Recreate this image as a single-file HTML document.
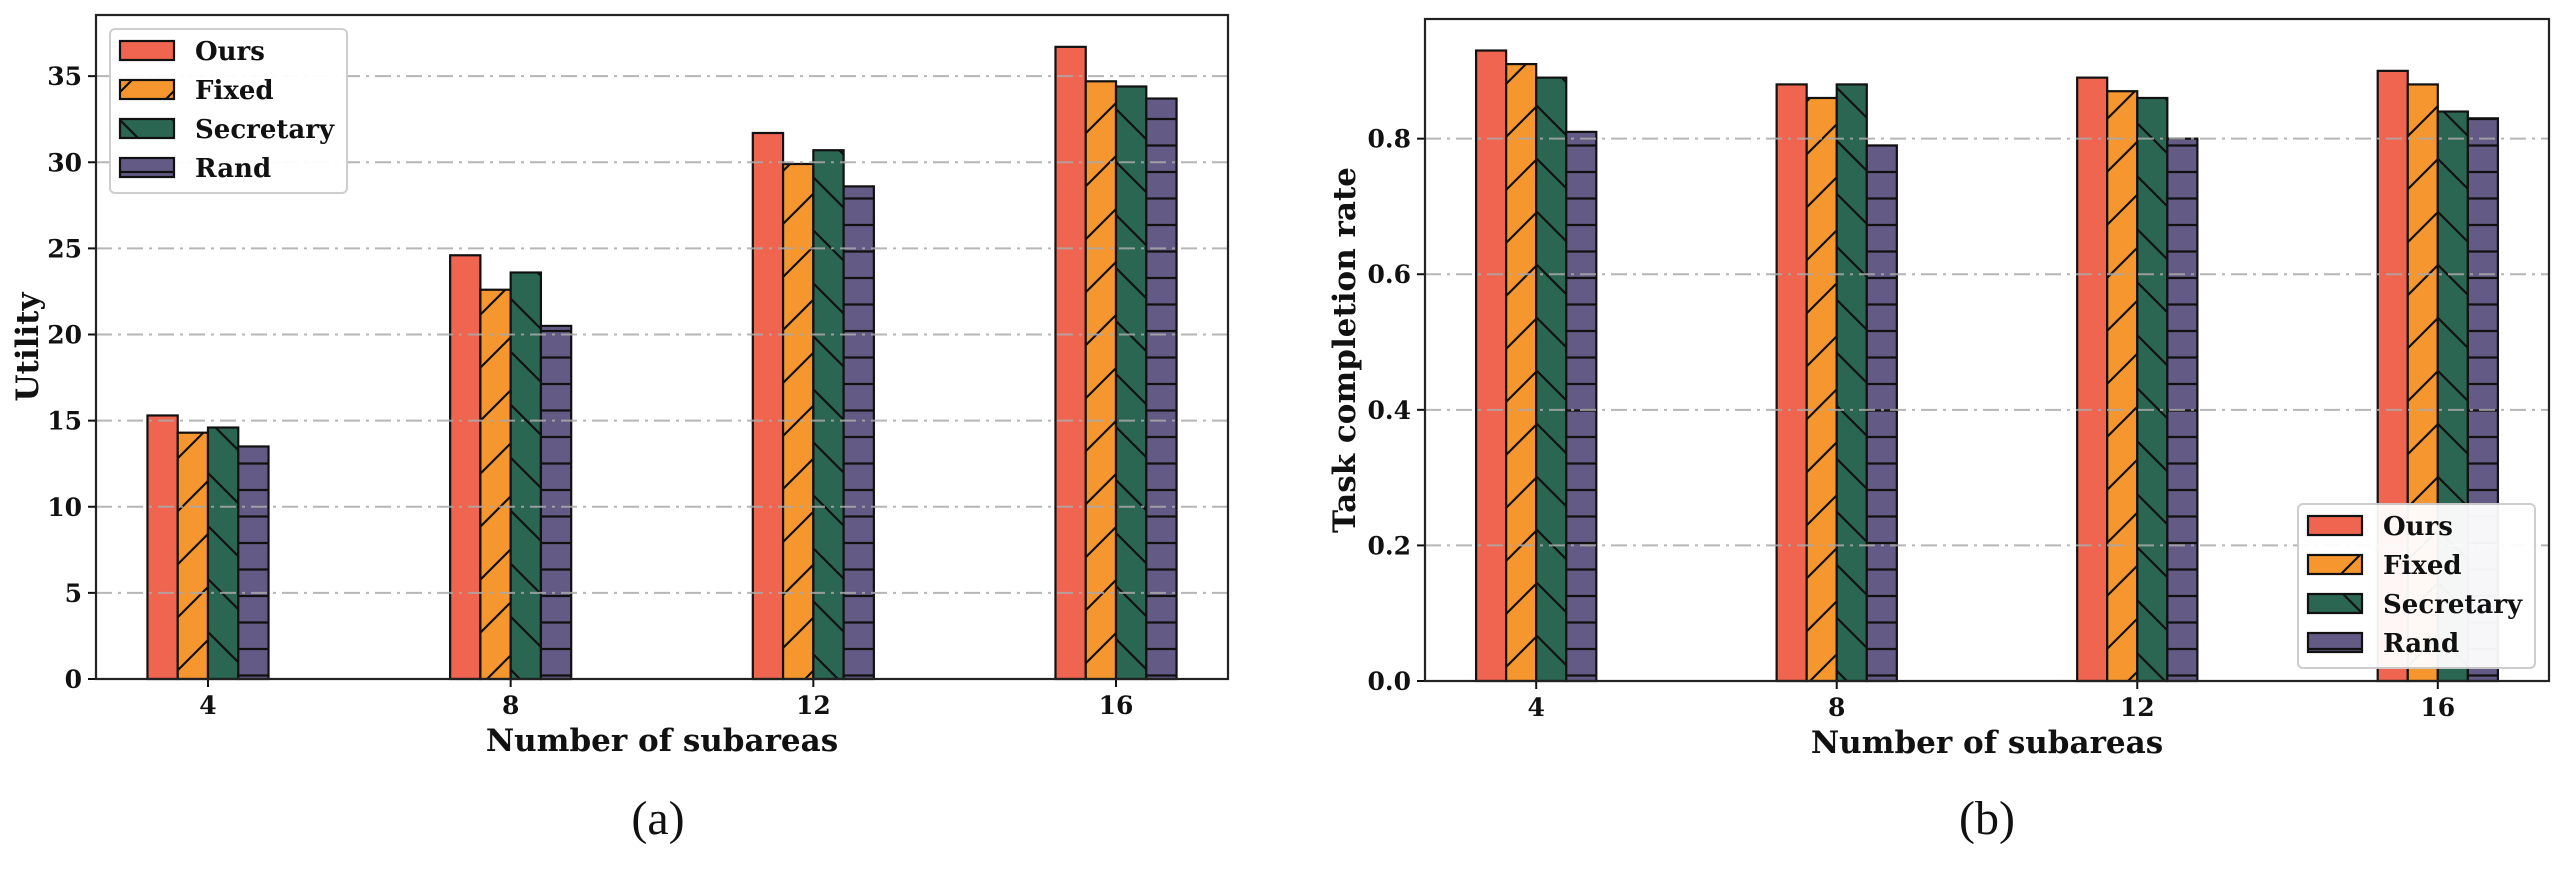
<!DOCTYPE html>
<html><head><meta charset="utf-8"><style>
html,body{margin:0;padding:0;background:#fff;}
svg{display:block;}
text{font-family:"DejaVu Serif",serif;font-weight:bold;fill:#111;}
</style></head><body>
<svg id="fig" width="2564" height="871" viewBox="0 0 2564 871" xmlns="http://www.w3.org/2000/svg">
<defs>
<pattern id="h-fixed" patternUnits="userSpaceOnUse" width="53" height="53"><rect width="53" height="53" fill="#F5962F"/><path d="M-5,58 L58,-5 M-10,10 L10,-10 M43,63 L63,43" stroke="#111" stroke-width="2.2"/></pattern>
<pattern id="h-sec" patternUnits="userSpaceOnUse" width="53" height="53"><rect width="53" height="53" fill="#2A6651"/><path d="M-5,-5 L58,58 M-10,43 L10,63 M43,-10 L63,10" stroke="#111" stroke-width="2.2"/></pattern>
<pattern id="h-rand" patternUnits="userSpaceOnUse" width="26.5" height="26.5"><rect width="26.5" height="26.5" fill="#635A85"/><path d="M0,13 L26.5,13" stroke="#111" stroke-width="2.2"/></pattern>
</defs>
<g id="chartA"></g>
<g id="chartB"></g>
<text x="658" y="834" text-anchor="middle" style="font-family:'Liberation Serif',serif;font-weight:normal;font-size:48px">(a)</text>
<text x="1987" y="834" text-anchor="middle" style="font-family:'Liberation Serif',serif;font-weight:normal;font-size:48px">(b)</text>
</svg>
<script>
const categories = ["4","8","12","16"];
const seriesNames = ["Ours","Fixed","Secretary","Rand"];
const utilOurs = [15.3, 24.6, 31.7, 36.7];
const utilFixed = [14.3, 22.6, 29.9, 34.7];
const utilSecretary = [14.6, 23.6, 30.7, 34.4];
const utilRand = [13.5, 20.5, 28.6, 33.7];
const rateOurs = [0.93, 0.88, 0.89, 0.90];
const rateFixed = [0.91, 0.86, 0.87, 0.88];
const rateSecretary = [0.89, 0.88, 0.86, 0.84];
const rateRand = [0.81, 0.79, 0.80, 0.83];
const utilTicks = [0,5,10,15,20,25,30,35];
const rateTicks = [0,0.2,0.4,0.6,0.8];
const rateTickLabels = ["0.0","0.2","0.4","0.6","0.8"];

const fills = ["#F0654F","url(#h-fixed)","url(#h-sec)","url(#h-rand)"];
const NS = "http://www.w3.org/2000/svg";
function mk(tag, attrs, parent){const e=document.createElementNS(NS,tag);for(const k in attrs)e.setAttribute(k,attrs[k]);parent.appendChild(e);return e;}

function drawChart(g, cfg){
  const {L,R,T,B,ymax,ticks,tickLabels,series,ylabel,ylabelX,legend} = cfg;
  const n = categories.length;
  const xmin = -0.37, xmax = (n-1)+0.37;
  const xs = v => L + (v - xmin)/(xmax - xmin)*(R-L);
  const ys = v => B - v/ymax*(B-T);
  const unit = xs(1)-xs(0);
  const bw = unit*0.1;
  series.forEach((vals, si) => {
    vals.forEach((v, ci) => {
      const x0 = xs(ci) + (si-2)*bw;
      const r = mk("rect",{x:x0,y:ys(v),width:bw,height:B-ys(v),fill:fills[si],stroke:"#111","stroke-width":2.2},g);
      
      
    });
  });
  ticks.forEach((t, i) => {
    if (t === 0) return;
    const l = mk("line",{x1:L,x2:R,y1:ys(t),y2:ys(t),stroke:"#aaa","stroke-width":2,"stroke-dasharray":"16,6,3,6",opacity:0.85},g);
    
    
  });
  ticks.forEach((t, i) => {
    mk("line",{x1:L-8,x2:L,y1:ys(t),y2:ys(t),stroke:"#111","stroke-width":2},g);
    const tx = mk("text",{x:L-14,y:ys(t)+9,"text-anchor":"end","font-size":"25"},g);
    tx.textContent = tickLabels[i];
    
    
  });
  categories.forEach((c, ci) => {
    mk("line",{x1:xs(ci),x2:xs(ci),y1:B,y2:B+8,stroke:"#111","stroke-width":2},g);
    const tx = mk("text",{x:xs(ci),y:B+35,"text-anchor":"middle","font-size":"25"},g);
    tx.textContent = c;
    
    
  });
  const fr = mk("rect",{x:L,y:T,width:R-L,height:B-T,fill:"none",stroke:"#222","stroke-width":2.2},g);
  
  
  const xl = mk("text",{x:(L+R)/2,y:B+72,"text-anchor":"middle","font-size":"31"},g);
  xl.textContent = "Number of subareas";
  
  
  const yl = mk("text",{x:0,y:0,"text-anchor":"middle","font-size":"31",transform:`translate(${ylabelX},${(T+B)/2}) rotate(-90)`},g);
  yl.textContent = ylabel;
  
  
  const lg = mk("g",{},g);
  
  
  mk("rect",{x:legend.x,y:legend.y,width:237,height:164,rx:5,fill:"#fff",stroke:"#ccc","stroke-width":2,opacity:0.95},lg);
  seriesNames.forEach((nm, si) => {
    const cy = legend.y + 22 + si*39;
    const e = mk("g",{},lg);
    
    
    mk("rect",{x:legend.x+10,y:cy-10,width:54,height:19,fill:fills[si],stroke:"#111","stroke-width":2.2},e);
    const t = mk("text",{x:legend.x+85,y:cy+9,"font-size":"26"},e);
    t.textContent = nm;
  });
}

drawChart(document.getElementById("chartA"),{
  L:96,R:1228,T:15,B:679,ymax:38.55,ticks:utilTicks,tickLabels:utilTicks.map(String),
  series:[utilOurs,utilFixed,utilSecretary,utilRand],ylabel:"Utility",ylabelX:38,
  legend:{x:110,y:29}
});
drawChart(document.getElementById("chartB"),{
  L:1425,R:2549,T:19,B:681,ymax:0.9765,ticks:rateTicks,tickLabels:rateTickLabels,
  series:[rateOurs,rateFixed,rateSecretary,rateRand],ylabel:"Task completion rate",ylabelX:1355,
  legend:{x:2298,y:504}
});
</script>
</body></html>
